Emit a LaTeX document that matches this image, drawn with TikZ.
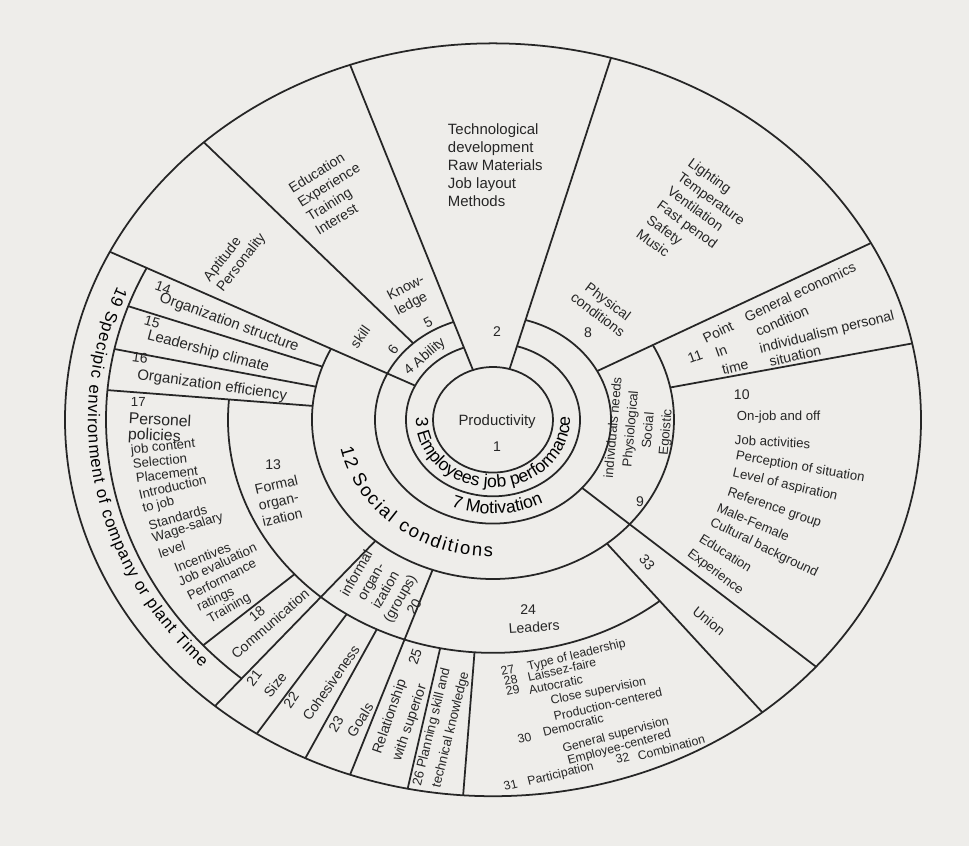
\documentclass[tikz,border=0pt]{standalone}
\usepackage{fontspec}
\setmainfont{Liberation Sans}
\usetikzlibrary{decorations.text}
\definecolor{papier}{RGB}{238,237,234}
\definecolor{tinte}{RGB}{38,38,38}

\begin{document}
\begin{tikzpicture}[x=0.02cm, y=0.0176cm, line width=1pt, color=tinte,
    txt/.style={font=\fontsize{8}{9.5}\selectfont, inner sep=0pt},
    klein/.style={txt, font=\fontsize{7.5}{9}\selectfont},
    blk/.style={txt, align=left},
    ringtext/.style={decorate, decoration={text along path, text align=center}}]

        % Hintergrund und Rahmen
        \path[use as bounding box, fill=papier] (-493,-484.1) rectangle (476,477.3);

        % Ringe
        \draw (0,0) circle[radius=60];
        \draw (0,0) circle[radius=428];
        \draw (109.5:87) arc[start angle=109.5, end angle=434, radius=87];
        \draw (109.5:118) arc[start angle=109.5, end angle=434, radius=118];
        \draw (153.5:181) arc[start angle=153.5, end angle=388, radius=181];
        \draw (175:265) arc[start angle=175, end angle=309, radius=265];
        \draw (153.5:387) arc[start angle=153.5, end angle=229.5, radius=387];

        % Trennlinien (Winkel / innen / aussen)
        \foreach \w/\ri/\ra in {74/60/428, 109.5/60/428, 132.5/118/428, 153.5/87/428,
                                160.5/181/387, 168/181/387, 175/181/387, 221.5/265/387,
                                229.5/181/428, 236.5/265/428, 244/265/428, 250.5/181/428,
                                258.5/265/428, 266/265/428, 309/181/428, 319/118/428,
                                11.7/181/428, 28/118/428}
            \draw (\w:\ri) -- (\w:\ra);

        % Schrift entlang der Ringe
        \path[ringtext, decoration={text={|\fontsize{10}{12}\selectfont|3 Employees job performance}}]
            (172:77) arc[start angle=172, end angle=369, radius=77];
        \path[ringtext, decoration={text={|\fontsize{10}{12}\selectfont|7 Motivation}}]
            (240:107) arc[start angle=240, end angle=305, radius=107];
        \path[decorate, decoration={text along path, text align={fit to path},
                text={|\fontsize{10.5}{12}\selectfont|12 Social conditions}}]
            (192:156) arc[start angle=192, end angle=270, radius=156];
        \path[decorate, decoration={text along path, text align={fit to path},
                text={|\fontsize{9.5}{11}\selectfont|19 Specipic environment of company or plant Time}}]
            (158:405) arc[start angle=158, end angle=224, radius=405];

        % Beschriftungen (Pixelkoordinaten)
        \begin{scope}[x=0.02cm, y=-0.02cm, shift={(-9.86cm,8.4cm)}]
        % Mitte
        \node[txt, font=\fontsize{8.5}{10}\selectfont] (prod) at (497,422) {Productivity};
        \node[txt] (nr1) at (497,447) {1};
        \node[txt, rotate=41] (abil) at (425,357) {4 Ability};

        % oben
        \node[blk, font=\fontsize{8.5}{10.2}\selectfont, anchor=north west] (tech) at (447,123)
            {Technological\\development\\Raw Materials\\Job layout\\Methods};
        \node[txt] (nr2) at (497,332) {2};
        \node[blk, rotate=-36, font=\fontsize{8}{10}\selectfont] (light) at (696,220)
            {Lighting\\Temperature\\Ventilation\\Fast penod\\Safety\\Music};
        \node[txt, align=center, rotate=-37] (physc) at (603,308) {Physical\\conditions};
        \node[txt] (nr8) at (588,333) {8};
        \node[blk, rotate=32] (educ) at (333,192) {Education\\Experience\\Training\\Interest};
        \node[blk, rotate=28] (know) at (410,296) {Know-\\ledge};
        \node[txt, rotate=28] (nr5) at (428,323) {5};
        \node[blk, rotate=52] (apti) at (235,258) {Aptitude\\Personality};
        \node[txt, rotate=55] (skill) at (360,337) {skill};
        \node[txt, rotate=55] (nr6) at (393,350) {6};

        % rechts
        \node[txt, align=center, rotate=85, font=\fontsize{7.5}{10}\selectfont] (needs) at (640,430)
            {individuals needs\\Physiological\\Social\\Egoistic};
        \node[txt] (nr9) at (640,502) {9};
        \node[txt, rotate=20] (nr11) at (695,357) {11};
        \node[txt, rotate=26] (point) at (718,332) {Point};
        \node[txt, rotate=20] (in) at (721,351) {In};
        \node[txt, rotate=14] (time) at (735,367) {time};
        \node[txt, rotate=25] (genec) at (800,292) {General economics};
        \node[txt, rotate=24] (cond) at (782,321) {condition};
        \node[txt, rotate=14] (indiv) at (827,333) {individualism personal};
        \node[txt, rotate=13] (situ) at (795,356) {situation};
        \node[txt, anchor=west] (nr10) at (733,395) {10};
        \foreach \txt/\px/\py/\rot [count=\i] in {On-job and off/736/417/0, Job activities/734/440/-3,
                Perception of situation/735/456/-10, Level of aspiration/732/473/-13,
                Reference group/727/492/-19, Male-Female/717/507/-23,
                Cultural background/710/522/-26, Education/700/537/-32, Experience/688/552/-37}
            \node[klein, anchor=west, rotate=\rot] (sit\i) at (\px,\py) {\txt};

        % links oben
        \node[txt, rotate=-20] (nr14) at (163,288) {14};
        \node[txt, font=\fontsize{8.5}{10}\selectfont, rotate=-20] (orgs) at (229,323) {Organization structure};
        \node[txt, rotate=-16] (nr15) at (152,322) {15};
        \node[txt, font=\fontsize{8.5}{10}\selectfont, rotate=-15] (lead) at (208,352) {Leadership climate};
        \node[txt, rotate=-8] (nr16) at (140,358) {16};
        \node[txt, font=\fontsize{8.5}{10}\selectfont, rotate=-8] (orge) at (212,386) {Organization efficiency};

        % Personalpolitik
        \node[klein, anchor=west] (nr17) at (130,402) {17};
        \node[txt, anchor=west, font=\fontsize{9}{10}\selectfont, rotate=-3] (pers) at (128,418) {Personel};
        \node[txt, anchor=west, font=\fontsize{9}{10}\selectfont, rotate=-3] (poli) at (127,435) {policies};
        \foreach \txt/\px/\py/\rot [count=\i] in {job content/130/451/6, Selection/132/464/6,
                Placement/135/478/7, Introduction/138/495/13, to job/142/510/15,
                Standards/148/526/16, Wage-salary/152/540/18, level/158/554/18,
                Incentives/174/569/22, Job evaluation/178/583/25, Performance/187/597/27,
                ratings/197/609/25, Training/208/621/30}
            \node[klein, anchor=west, rotate=\rot] (pol\i) at (\px,\py) {\txt};

        \node[txt] (nr13) at (273,465) {13};
        \node[blk, rotate=13] (form) at (280,501) {Formal\\organ-\\ization};
        \node[txt, rotate=40] (nr18) at (257,614) {18};
        \node[txt, rotate=41] (comm) at (270,624) {Communication};
        \node[txt, align=center, rotate=60] (infm) at (385,590) {informal\\organ-\\ization\\(groups)\\20};

        % unten
        \node[txt, rotate=52] (nr21) at (254,678) {21};
        \node[txt, rotate=52] (size) at (275,685) {Size};
        \node[txt, rotate=55] (nr22) at (291,700) {22};
        \node[txt, rotate=55] (cohe) at (331,683) {Cohesiveness};
        \node[txt, rotate=58] (nr23) at (336,724) {23};
        \node[txt, rotate=58] (goal) at (360,720) {Goals};
        \node[txt, rotate=71] (nr25) at (415,657) {25};
        \node[txt, rotate=71] (rela) at (390,717) {Relationship};
        \node[txt, rotate=71] (supr) at (410,723) {with superior};
        \node[txt, rotate=76, font=\fontsize{7.5}{9}\selectfont] (plan) at (432,727) {26 Planning skill and};
        \node[txt, rotate=76, font=\fontsize{7.5}{9}\selectfont] (tech2) at (451,730) {technical knowledge};
        \node[txt] (nr24) at (528,610) {24};
        \node[txt, rotate=4] (ldrs) at (534,627) {Leaders};
        \foreach \txt/\px/\py/\rot [count=\i] in {27/500/672/13, Type of leadership/527/668/14,
                28/503/682/13, Laissez-faire/527/678/13, 29/505/692/12, Autocratic/528/690/11,
                Close supervision/550/702/12, Production-centered/553/717/13,
                30/517/740/14, Democratic/542/733/14, General supervision/562/750/15,
                Employee-centered/567/762/15, 31/503/787/14, Participation/527/783/14,
                32/615/760/14, Combination/637/757/15}
            \node[txt, font=\fontsize{7}{8}\selectfont, anchor=west, rotate=\rot] (ldt\i) at (\px,\py) {\txt};
        \node[txt, rotate=-50] (nr33) at (647,563) {33};
        \node[txt, rotate=-39] (unio) at (709,621) {Union};
        \end{scope}

    \end{tikzpicture}
\end{document}
